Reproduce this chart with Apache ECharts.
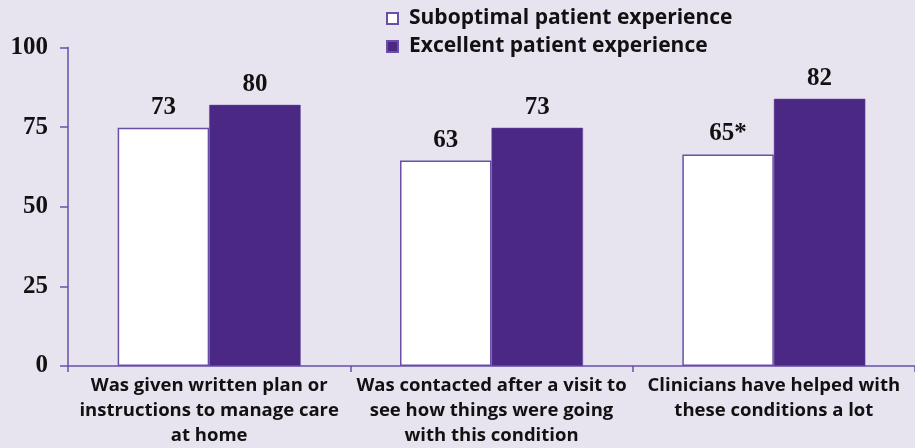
<!DOCTYPE html>
<html>
<head>
<meta charset="utf-8">
<script src="https://cdn.jsdelivr.net/npm/echarts@6/dist/echarts.min.js"></script>
<style>
html,body{margin:0;padding:0;background:#e7e4f0;}
#chart{width:915px;height:448px;}
</style>
</head>
<body>
<div id="chart"></div>
<script>
var categories = [
  'Was given written plan or\ninstructions to manage care\nat home',
  'Was contacted after a visit to\nsee how things were going\nwith this condition',
  'Clinicians have helped with\nthese conditions a lot'
];
var seriesNames = ['Suboptimal patient experience', 'Excellent patient experience'];
var suboptimalValues = [74.8, 64.5, 66.4];
var excellentValues = [82.0, 74.8, 83.9];
var suboptimalLabels = ['73', '63', '65*'];
var excellentLabels = ['80', '73', '82'];
var yTicks = [0, 25, 50, 75, 100];

var purple = '#4a2884';
var axisColor = '#6a4fa8';
var serif = '"Liberation Serif", "DejaVu Serif", serif';
var sans = '"Open Sans", "Noto Sans", sans-serif';

var chart = echarts.init(document.getElementById('chart'), null, {renderer: 'canvas'});
chart.setOption({
  backgroundColor: '#e7e4f0',
  animation: false,
  legend: {
    orient: 'vertical',
    left: 381,
    top: 3,
    itemWidth: 11,
    itemHeight: 11,
    itemGap: 7,
    icon: 'rect',
    textStyle: {fontFamily: sans, fontWeight: 'bold', fontSize: 21, color: '#111', lineHeight: 21, padding: [0,0,0,6]},
    data: seriesNames
  },
  grid: {left: 68, right: -7, top: 47.5, bottom: 81.5, containLabel: false},
  xAxis: {
    type: 'category',
    data: categories,
    axisLine: {lineStyle: {color: axisColor, width: 1.5}},
    axisTick: {show: true, length: 6, lineStyle: {color: axisColor, width: 1.5}},
    axisLabel: {
      interval: 0, margin: 7, color: '#111', fontFamily: sans, fontWeight: 'bold',
      fontSize: 18.5, lineHeight: 25, align: 'center'
    }
  },
  yAxis: {
    type: 'value',
    min: yTicks[0],
    max: yTicks[yTicks.length - 1],
    interval: yTicks[1] - yTicks[0],
    splitLine: {show: false},
    axisLine: {show: true, lineStyle: {color: axisColor, width: 1.5}},
    axisTick: {show: true, length: 8, lineStyle: {color: axisColor, width: 1.5}},
    axisLabel: {margin: 20, color: '#111', fontFamily: serif, fontWeight: 'bold', fontSize: 25}
  },
  series: [
    {
      name: seriesNames[0],
      type: 'bar',
      data: suboptimalValues,
      barWidth: 91.5,
      barGap: '0%',
      itemStyle: {color: '#ffffff', borderColor: axisColor, borderWidth: 1.5},
      label: {
        show: true, position: 'top', distance: 8, color: '#111',
        fontFamily: serif, fontWeight: 'bold', fontSize: 25,
        formatter: function (p) { return suboptimalLabels[p.dataIndex]; }
      }
    },
    {
      name: seriesNames[1],
      type: 'bar',
      data: excellentValues,
      barWidth: 91.5,
      barGap: '0%',
      itemStyle: {color: purple, borderColor: axisColor, borderWidth: 0.5},
      label: {
        show: true, position: 'top', distance: 8, color: '#111',
        fontFamily: serif, fontWeight: 'bold', fontSize: 25,
        formatter: function (p) { return excellentLabels[p.dataIndex]; }
      }
    }
  ]
});
</script>
</body>
</html>
